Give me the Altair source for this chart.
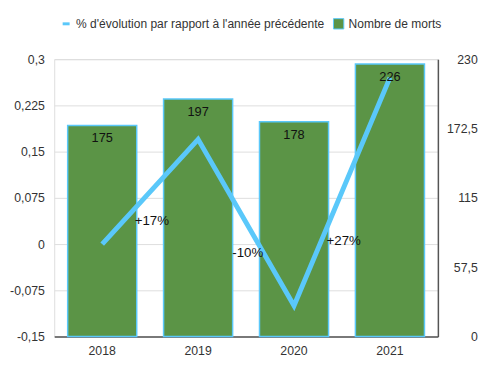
import altair as alt
import pandas as pd

years = ["2018", "2019", "2020", "2021"]
deaths = [175, 197, 178, 226]
pct_change = [0.0, 0.17, -0.10, 0.27]
pct_label_years = ["2019", "2020", "2021"]
pct_labels = ["+17%", "-10%", "+27%"]
pct_label_anchor = [0.038, -0.015, 0.005]
left_ticks = [-0.15, -0.075, 0, 0.075, 0.15, 0.225, 0.3]
right_ticks = [0, 57.5, 115, 172.5, 230]
bar_name = "Nombre de morts"
line_name = "% d'évolution par rapport à l'année précédente"

GREEN = "#5b9446"
BLUE = "#5ac8fa"
FONT = "Liberation Sans"

df = pd.DataFrame({"year": years, "deaths": deaths, "pct": pct_change,
                   "bar_series": bar_name, "line_series": line_name})
df_lab = pd.DataFrame({"year": pct_label_years, "label": pct_labels, "y": pct_label_anchor})

x = alt.X("year:N", sort=years,
          scale=alt.Scale(paddingInner=0.28, paddingOuter=0.14),
          axis=alt.Axis(title=None, labelAngle=0, ticks=False, domainColor="#555555",
                        domainWidth=1.5, labelPadding=8, labelFontSize=12.5,
                        labelColor="#333333", labelFont=FONT, grid=False))

base = alt.Chart(df)

bars = base.mark_bar(stroke=BLUE, strokeWidth=1.5).encode(
    x=x,
    y=alt.Y("deaths:Q", scale=alt.Scale(domain=[0, 230], nice=False, zero=True),
            axis=alt.Axis(orient="right", title=None, values=right_ticks, grid=False,
                          ticks=False, domainColor="#555555", domainWidth=1.5,
                          labelAlign="right", labelPadding=40, labelFontSize=12.5,
                          labelColor="#333333", labelFont=FONT,
                          labelExpr="replace(toString(datum.value), '.', ',')")),
    color=alt.Color("bar_series:N", scale=alt.Scale(domain=[bar_name], range=[GREEN]),
                    legend=alt.Legend(orient="none", legendX=283, legendY=-42, title=None,
                                      symbolType="square", symbolSize=110,
                                      symbolStrokeColor=BLUE, symbolStrokeWidth=1,
                                      labelFontSize=12.2, labelFont=FONT, labelColor="#333333",
                                      labelLimit=0, padding=0)),
)

bar_text = base.mark_text(dy=13, fontSize=13, color="#111111", font=FONT).encode(
    x=x,
    y=alt.Y("deaths:Q", scale=alt.Scale(domain=[0, 230], nice=False), axis=None),
    text=alt.Text("deaths:Q"),
)

line = base.mark_line(strokeWidth=5, strokeCap="butt").encode(
    x=x,
    y=alt.Y("pct:Q", scale=alt.Scale(domain=[-0.15, 0.3], nice=False, zero=False),
            axis=alt.Axis(orient="left", title=None, values=left_ticks, grid=True,
                          gridColor="#dddddd", ticks=False, domain=False,
                          labelPadding=10, labelFontSize=12.5, labelColor="#333333",
                          labelFont=FONT,
                          labelExpr="replace(toString(datum.value), '.', ',')")),
    stroke=alt.Stroke("line_series:N", scale=alt.Scale(domain=[line_name], range=[BLUE]),
                      legend=alt.Legend(orient="none", legendX=6, legendY=-42, title=None,
                                        symbolType="stroke", symbolSize=50,
                                        symbolStrokeWidth=3,
                                        labelFontSize=12.2, labelFont=FONT,
                                        labelColor="#333333", labelLimit=0, padding=0)),
)

pct_text = alt.Chart(df_lab).mark_text(dx=-47, fontSize=13.5, color="#111111", font=FONT).encode(
    x=x,
    y=alt.Y("y:Q", scale=alt.Scale(domain=[-0.15, 0.3], nice=False, zero=False), axis=None),
    text="label:N",
)

chart = alt.layer(bars, line, bar_text, pct_text).resolve_scale(
    y="independent"
).properties(
    width=390, height=282, autosize="none",
    padding={"left": 47, "top": 49, "right": 55, "bottom": 30},
).configure_view(stroke=None).configure(font=FONT)

chart.save("out.html", embed_options={"renderer": "svg", "actions": False})
